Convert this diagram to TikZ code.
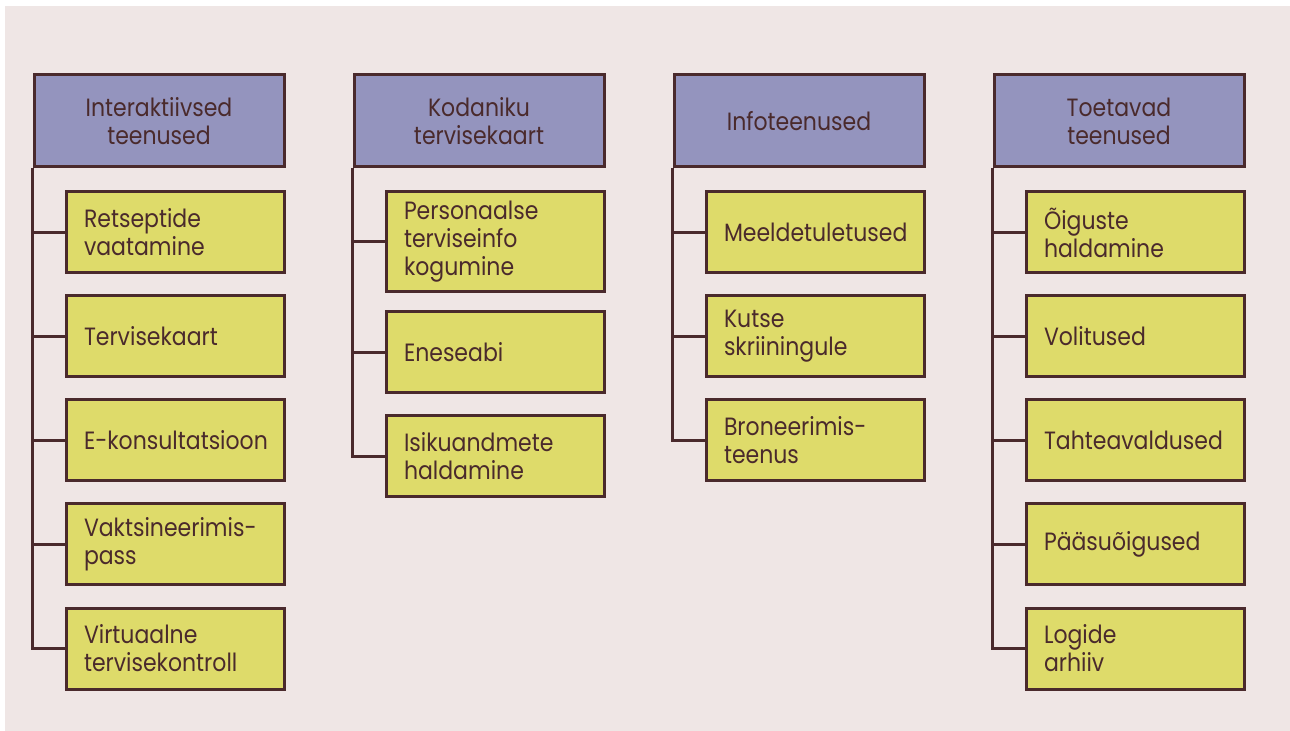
\documentclass[tikz,border=0pt]{standalone}
\usepackage{fontspec}
\setmainfont{Poppins}[FakeStretch=0.88]
\usetikzlibrary{positioning}
\definecolor{bgpink}{HTML}{EFE6E5}
\definecolor{headblue}{HTML}{9494BE}
\definecolor{leafyel}{HTML}{DEDB6A}
\definecolor{edgebrown}{HTML}{4A2A2C}
\newcommand\nohyph{\hyphenpenalty=10000\relax\exhyphenpenalty=10000\relax}

\begin{document}
\begin{tikzpicture}[x=0.5pt,y=-0.5pt,
    head/.style={draw=edgebrown,fill=headblue,line width=1.5pt,minimum width=125pt,minimum height=46pt,inner sep=0pt,align=center,text=edgebrown,font=\fontsize{12.5}{14}\selectfont},
    leaf/.style={draw=edgebrown,fill=leafyel,line width=1.5pt,text width=91pt,inner xsep=9pt,inner ysep=0pt,minimum height=40.5pt,align=left,text=edgebrown,font=\fontsize{12.5}{14}\selectfont,execute at begin node=\nohyph},
    link/.style={draw=edgebrown,line width=1.5pt}]
      \useasboundingbox (0,0) rectangle (1290,731);
      \fill[bgpink] (5,6) rectangle (1290,731);

      % interaktiivsed teenused
      \node[head] (h1) at (159,121) {Interaktiivsed\\teenused};
      \node[leaf] (c11) at (175,232.5) {Retseptide\\vaatamine};
      \node[leaf] (c12) at (175,336.5) {Tervisekaart};
      \node[leaf] (c13) at (175,440.5) {E-konsultatsioon};
      \node[leaf] (c14) at (175,544.5) {Vaktsineerimis-\\pass};
      \node[leaf] (c15) at (175,648.5) {Virtuaalne\\tervisekontroll};

      % kodaniku tervisekaart
      \node[head] (h2) at (479,121) {Kodaniku\\tervisekaart};
      \node[leaf,minimum height=50pt] (c21) at (495,242) {Personaalse\\terviseinfo\\kogumine};
      \node[leaf] (c22) at (495,352.5) {Eneseabi};
      \node[leaf] (c23) at (495,456.5) {Isikuandmete\\haldamine};

      % infoteenused
      \node[head] (h3) at (799,121) {Infoteenused};
      \node[leaf] (c31) at (815,232.5) {Meeldetuletused};
      \node[leaf] (c32) at (815,336.5) {Kutse\\skriiningule};
      \node[leaf] (c33) at (815,440.5) {Broneerimis-\\teenus};

      % toetavad teenused
      \node[head] (h4) at (1119,121) {Toetavad\\teenused};
      \node[leaf] (c41) at (1135,232.5) {Õiguste\\haldamine};
      \node[leaf] (c42) at (1135,336.5) {Volitused};
      \node[leaf] (c43) at (1135,440.5) {Tahteavaldused};
      \node[leaf] (c44) at (1135,544.5) {Pääsuõigused};
      \node[leaf] (c45) at (1135,648.5) {Logide\\arhiiv};

      \draw[link] (h1.south west) |- (c15.west);
      \draw[link] (h1.south west |- c11.west) -- (c11.west);
      \draw[link] (h1.south west |- c12.west) -- (c12.west);
      \draw[link] (h1.south west |- c13.west) -- (c13.west);
      \draw[link] (h1.south west |- c14.west) -- (c14.west);

      \draw[link] (h2.south west) |- (c23.west);
      \draw[link] (h2.south west |- c21.west) -- (c21.west);
      \draw[link] (h2.south west |- c22.west) -- (c22.west);

      \draw[link] (h3.south west) |- (c33.west);
      \draw[link] (h3.south west |- c31.west) -- (c31.west);
      \draw[link] (h3.south west |- c32.west) -- (c32.west);

      \draw[link] (h4.south west) |- (c45.west);
      \draw[link] (h4.south west |- c41.west) -- (c41.west);
      \draw[link] (h4.south west |- c42.west) -- (c42.west);
      \draw[link] (h4.south west |- c43.west) -- (c43.west);
      \draw[link] (h4.south west |- c44.west) -- (c44.west);
    \end{tikzpicture}
\end{document}
